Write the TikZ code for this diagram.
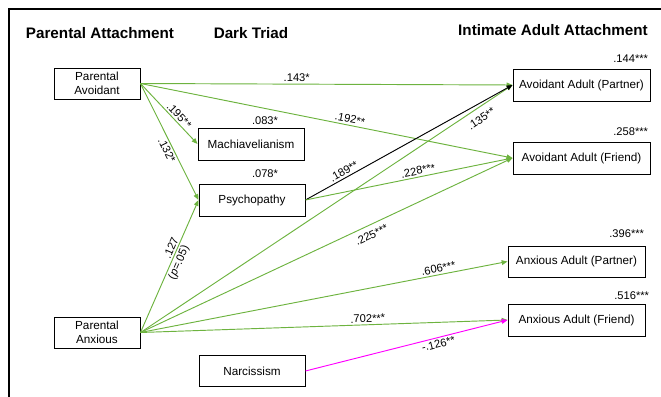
\documentclass[tikz,border=0pt]{standalone}
\usepackage{fontspec}
\setmainfont{Liberation Sans}
\usetikzlibrary{arrows.meta,shadows}
\definecolor{PathGreen}{HTML}{6DB33F}
\definecolor{PathPink}{HTML}{FF00FF}
\tikzset{
  every node/.style={text=black},
  box/.style={draw=black, line width=0.8pt, fill=white, align=center, inner sep=2pt,
    font=\fontsize{10}{11.5}\selectfont,
    drop shadow={shadow xshift=0.7pt, shadow yshift=-0.7pt, fill=black!45, opacity=1}},
  heading/.style={font=\fontsize{13}{15}\selectfont\bfseries},
  coef/.style={font=\fontsize{9.5}{11}\selectfont, inner sep=1.5pt},
  link/.style={-{Triangle[length=5pt,width=4pt]}, draw=PathGreen, line width=0.8pt},
  blacklink/.style={-{Triangle[length=5pt,width=4pt]}, draw=black, line width=0.8pt},
  pinklink/.style={-{Triangle[length=5pt,width=4pt]}, draw=PathPink, line width=0.8pt},
}
\begin{document}
\begin{tikzpicture}[x=0.03cm,y=-0.03cm]
  \useasboundingbox (0,0) rectangle (661,397);
  % Frame (top and left edges)
  \draw[line width=1.1pt] (9,397) -- (9,9) -- (661,9);
  % Column headings
  \node[heading] (hpar) at (100,33) {Parental Attachment};
  \node[heading] (hdark) at (251,33) {Dark Triad};
  \node[heading] (hadult) at (553,30) {Intimate Adult Attachment};
  % Parental attachment
  \node[box, minimum width=2.58cm, minimum height=0.93cm] (pavoid) at (97,83.5) {Parental\\Avoidant};
  \node[box, minimum width=2.58cm, minimum height=0.93cm] (panx) at (97,332.5) {Parental\\Anxious};
  % Dark triad
  \node[box, minimum width=3.18cm, minimum height=0.96cm] (mach) at (251,144) {Machiavelianism};
  \node[box, minimum width=3.18cm, minimum height=0.96cm] (psych) at (252,200) {Psychopathy};
  \node[box, minimum width=3.18cm, minimum height=0.93cm] (narc) at (252,371) {Narcissism};
  % Adult attachment
  \node[box, minimum width=4.11cm, minimum height=0.96cm] (avpart) at (581.5,85) {Avoidant Adult (Partner)};
  \node[box, minimum width=4.11cm, minimum height=0.96cm] (avfriend) at (581.5,158) {Avoidant Adult (Friend)};
  \node[box, minimum width=4.11cm, minimum height=0.93cm] (anxpart) at (576.5,261.5) {Anxious Adult (Partner)};
  \node[box, minimum width=4.11cm, minimum height=0.96cm] (anxfriend) at (576.5,320) {Anxious Adult (Friend)};
  % Explained variance
  \node[coef] (r2mach) at (265,121) {.083*};
  \node[coef] (r2psych) at (265,174) {.078*};
  \node[coef, anchor=east] (r2avpart) at (650,59) {.144***};
  \node[coef, anchor=east] (r2avfriend) at (650,132) {.258***};
  \node[coef, anchor=east] (r2anxpart) at (646,234) {.396***};
  \node[coef, anchor=east] (r2anxfriend) at (651,296) {.516***};
  % Paths from parental avoidant
  \draw[link] (pavoid.east) -- node[coef, above, pos=0.42] {.143*} (avpart.west);
  \draw[link] (pavoid.east) -- node[coef, above, sloped, pos=0.56] {.192**} (avfriend.west);
  \draw[link] (pavoid.east) -- node[coef, above, sloped, pos=0.6] {.195**} (mach.west);
  \draw[link] (pavoid.east) -- node[coef, below, sloped, pos=0.55] {.132*} (psych.west);
  % Paths from parental anxious
  \draw[link] (panx.east) -- node[coef, above, sloped, pos=0.62] {.127}
    node[coef, below, sloped, pos=0.55] {(\textit{p}=.05)} (psych.west);
  \draw[link] (panx.east) -- node[coef, below=4pt, sloped, pos=0.9] {.135**} (avpart.west);
  \draw[link] (panx.east) -- node[coef, below=3pt, sloped, pos=0.61] {.225***} (avfriend.west);
  \draw[link] (panx.east) -- node[coef, above, sloped, pos=0.815] {.606***} (anxpart.west);
  \draw[link] (panx.east) -- node[coef, above, sloped, pos=0.62] {.702***} (anxfriend.west);
  % Paths from the dark triad
  \draw[blacklink] (psych.east) -- node[coef, above, sloped, pos=0.2] {.189**} (avpart.west);
  \draw[link] (psych.east) -- node[coef, above, sloped, pos=0.55] {.228***} (avfriend.west);
  \draw[pinklink] (narc.east) -- node[coef, below, sloped, pos=0.65] {-.126**} (anxfriend.west);
\end{tikzpicture}
\end{document}
